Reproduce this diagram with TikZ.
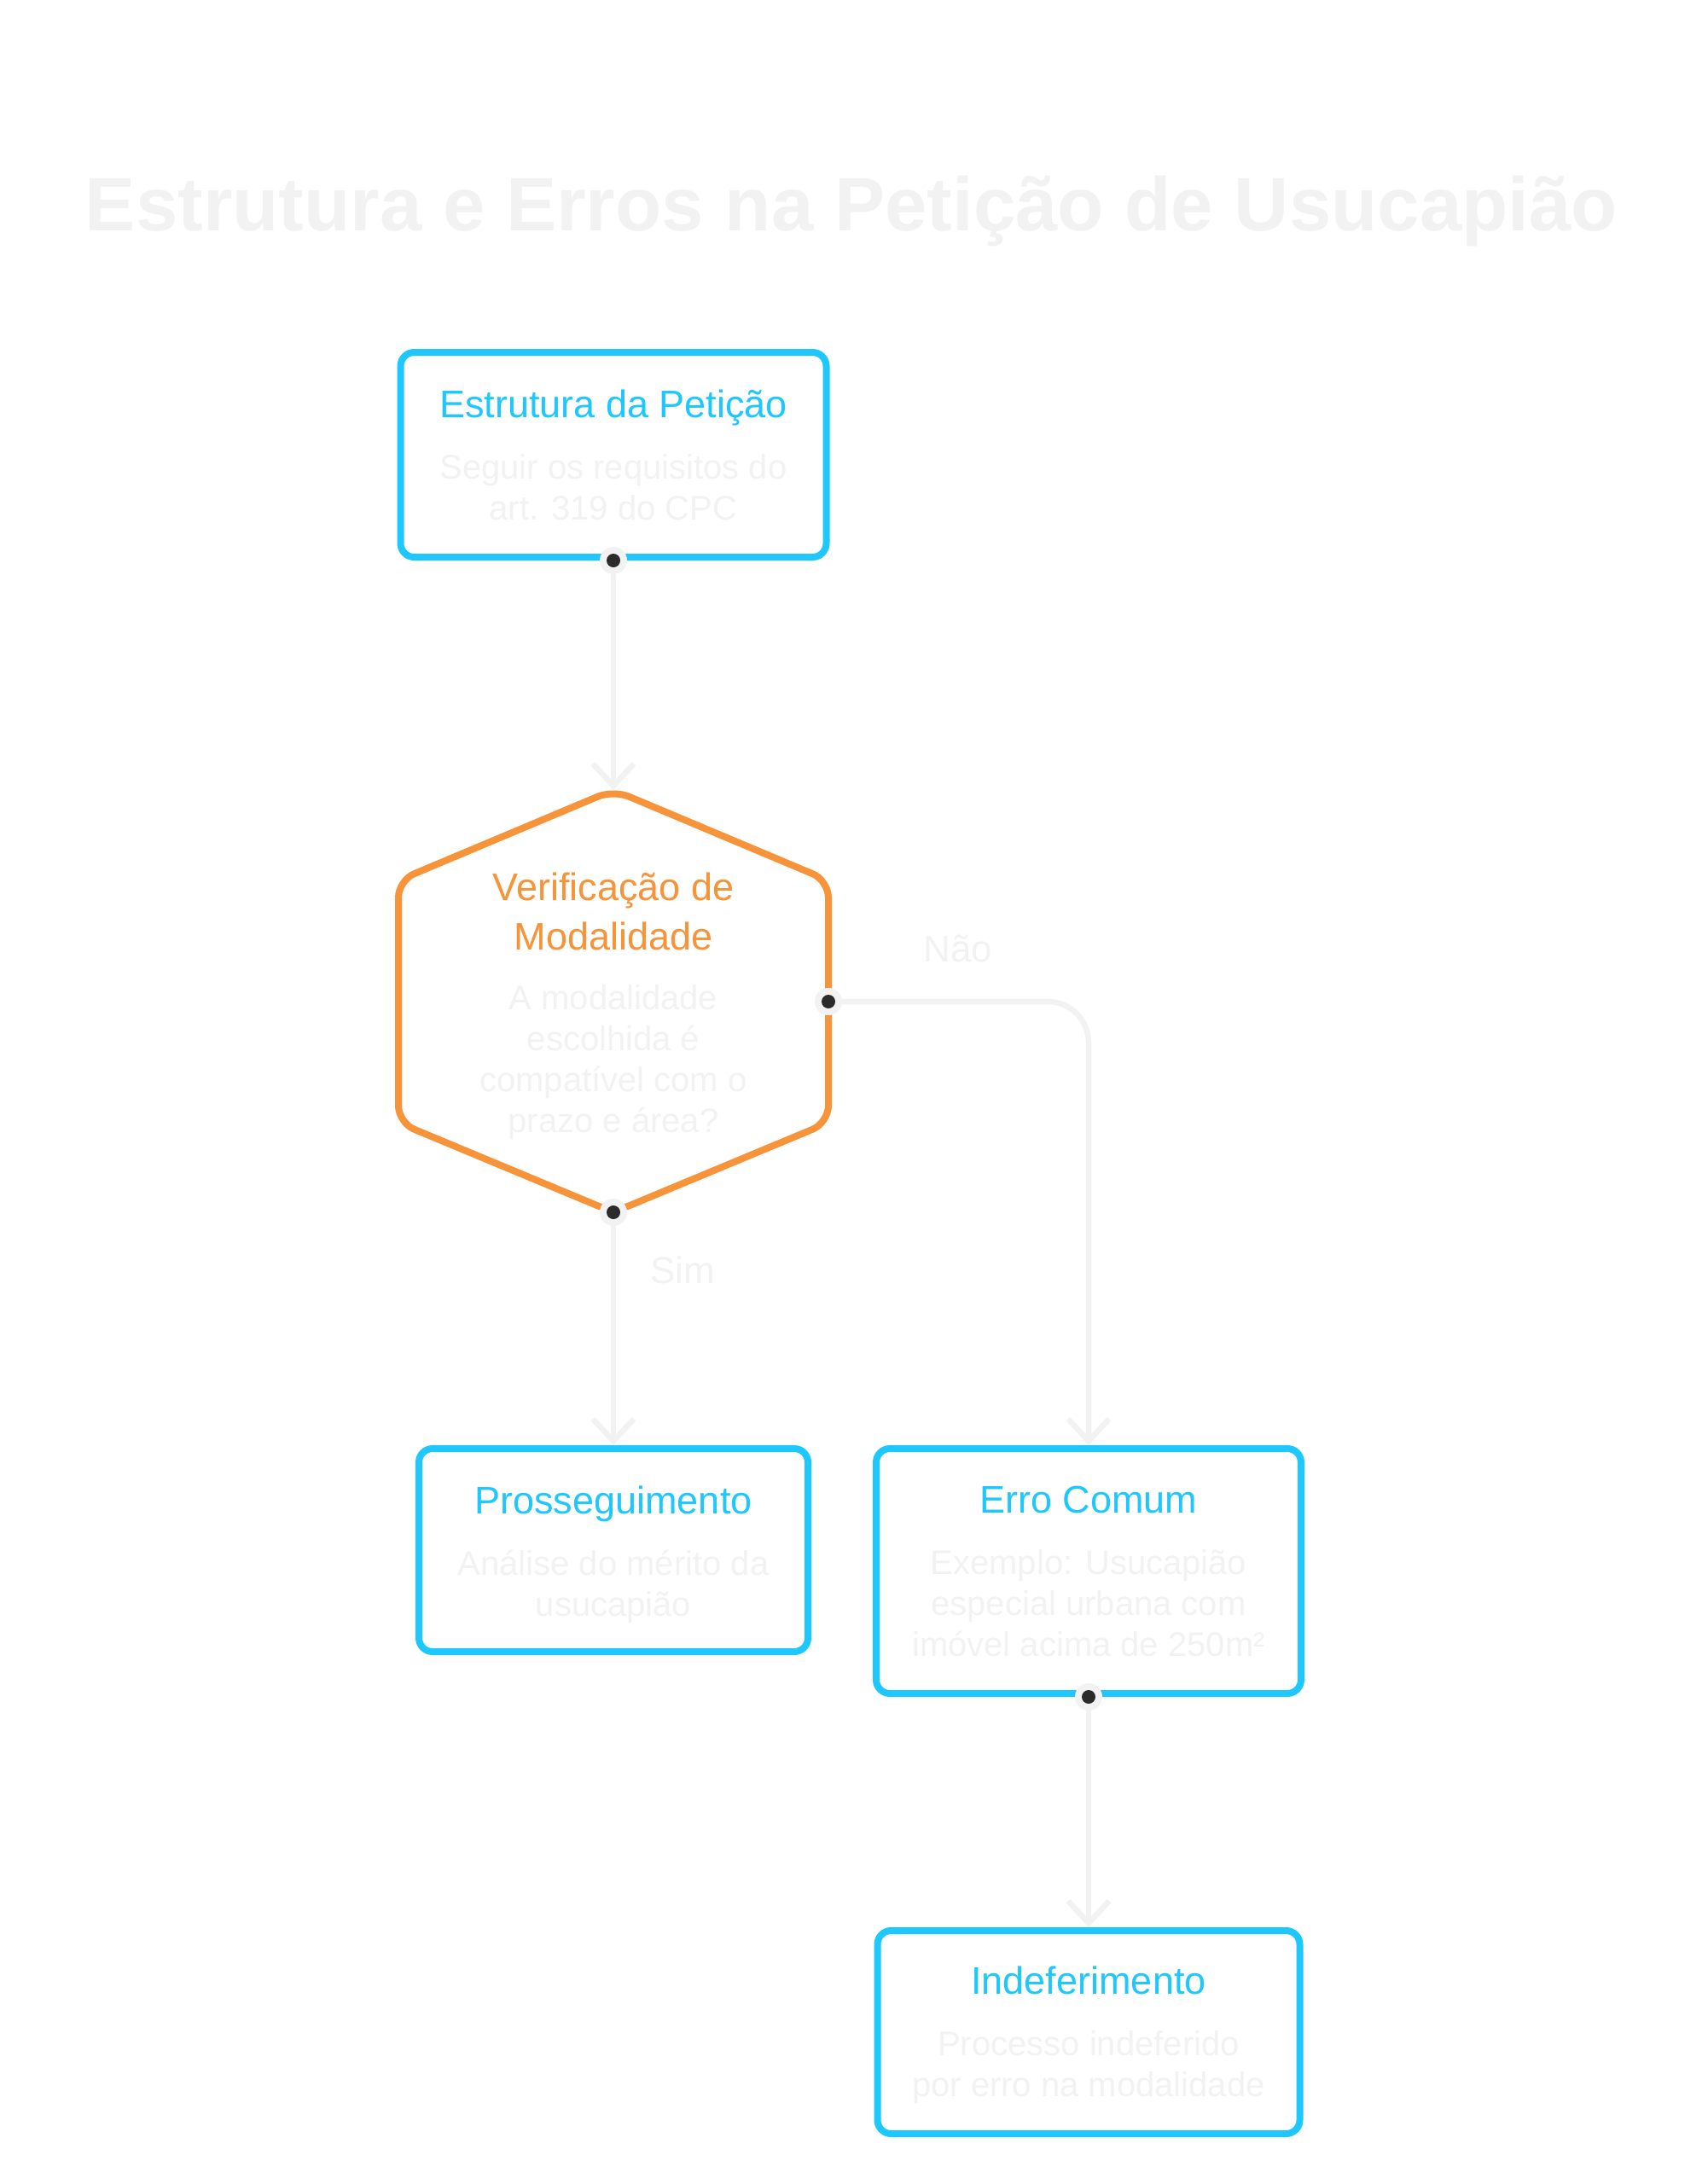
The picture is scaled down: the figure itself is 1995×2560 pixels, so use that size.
\documentclass[tikz,border=0pt]{standalone}
\usepackage{fontspec}
\setmainfont{Liberation Sans}
\usetikzlibrary{arrows.meta}

\definecolor{boxblue}{HTML}{1EC8FF}
\definecolor{hexorange}{HTML}{F7943A}
\definecolor{faint}{HTML}{F2F2F2}
\definecolor{dotgray}{HTML}{2B2B2B}
\newcommand\ttl{\fontsize{22.5}{27.5}\selectfont}
\newcommand\bdy{\fontsize{20}{24}\selectfont}

\begin{document}
\begin{tikzpicture}[x=0.5pt,y=-0.5pt,
  stepbox/.style 2 args={rectangle,draw=boxblue,line width=4pt,rounded corners=8pt,
    align=center,font=\bdy,text=faint,minimum width=#1,minimum height=#2},
  link/.style={draw=faint,line width=3.25pt,line cap=round,
    -{Straight Barb[length=13pt,width=24pt]}},
  lbl/.style={font=\fontsize{22}{26}\selectfont,text=faint,anchor=base}]
\fill[white] (0,0) rectangle (1995,2560);
\useasboundingbox (0,0) rectangle (1995,2560);

\node[font=\bfseries\fontsize{44.4}{50}\selectfont,text=faint,anchor=base] (title)
  at (998,270) {Estrutura e Erros na Petição de Usucapião};

\node[stepbox={249.5pt}{120pt}] (estrutura) at (719,533)
  {{\color{boxblue}\ttl Estrutura da Petição}\\[12pt]Seguir os requisitos do\\art. 319 do CPC};

% hexagon
\coordinate (hex-t) at (719,926);
\coordinate (hex-r) at (971,1174);
\coordinate (hex-b) at (719,1421);
\draw[hexorange,line width=4pt,rounded corners=10pt]
  (hex-t) -- (971,1032) -- (971,1316) -- (hex-b) -- (467,1316) -- (467,1032) -- cycle;
\node[align=center,font=\bdy,text=faint] (verif) at (719,1179)
  {{\color{hexorange}\ttl Verificação de}\\[5pt]{\color{hexorange}\ttl Modalidade}\\[11pt]A modalidade\\escolhida é\\compatível com o\\prazo e área?};

\node[stepbox={228pt}{119pt}] (prosseg) at (719,1817)
  {{\color{boxblue}\ttl\rule{0pt}{21.5pt}Prosseguimento}\\[12pt]Análise do mérito da\\usucapião};
\node[stepbox={249pt}{143.5pt}] (erro) at (1276,1841.5)
  {{\color{boxblue}\ttl Erro Comum}\\[12pt]Exemplo: Usucapião\\especial urbana com\\imóvel acima de 250m²};
\node[stepbox={247.5pt}{119pt}] (indef) at (1276,2382)
  {{\color{boxblue}\ttl\rule{0pt}{20pt}Indeferimento}\\[12pt]Processo indeferido\\por erro na modalidade};

\draw[link] (estrutura.south) -- (hex-t);
\draw[link,rounded corners=24pt] (hex-r) -| (erro.north);
\draw[link] (hex-b) -- (prosseg.north);
\draw[link] (erro.south) -- (indef.north);

\node[lbl] (nao) at (1123,1127) {Não};
\node[lbl] (sim) at (800,1504) {Sim};

\foreach \p in {estrutura.south,hex-r,hex-b,erro.south} {
  \fill[faint] (\p) circle (8pt);
  \fill[dotgray] (\p) circle (4pt);
}
\end{tikzpicture}
\end{document}
